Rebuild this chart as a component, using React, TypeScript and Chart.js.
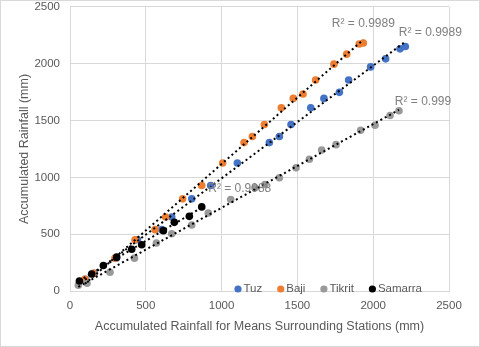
import React, { useEffect, useRef } from "react";
import { Chart, registerables } from "chart.js";

Chart.register(...registerables);

// ---- data ----
const seriesNames = ["Tuz", "Baji", "Tikrit", "Samarra"];
const seriesColors = ["#4472C4", "#ED7D31", "#999999", "#000000"];

const tuzX = [100, 160, 305, 445, 605, 671, 803, 928, 1104, 1315, 1381, 1458, 1588, 1675, 1777, 1838, 1983, 2082, 2177, 2212];
const tuzY = [103, 156, 289, 451, 540, 651, 811, 929, 1126, 1306, 1359, 1465, 1613, 1695, 1748, 1857, 1972, 2043, 2131, 2152];

const bajiX = [99, 154, 297, 429, 561, 631, 743, 869, 1007, 1148, 1203, 1282, 1394, 1473, 1537, 1620, 1741, 1825, 1908, 1935];
const bajiY = [103, 156, 289, 451, 540, 651, 811, 929, 1126, 1306, 1359, 1465, 1613, 1695, 1733, 1857, 1996, 2084, 2173, 2182];

const tikritX = [55, 112, 264, 425, 570, 671, 803, 912, 1060, 1220, 1286, 1381, 1491, 1579, 1660, 1755, 1917, 2012, 2111, 2170];
const tikritY = [50, 68, 165, 289, 422, 504, 581, 687, 805, 908, 937, 996, 1085, 1159, 1241, 1288, 1415, 1459, 1545, 1586];

const samarraX = [62, 143, 220, 308, 407, 473, 616, 688, 787, 869];
const samarraY = [88, 150, 224, 298, 368, 407, 531, 604, 657, 740];

const r2Labels = ["R\u00B2 = 0.9989", "R\u00B2 = 0.9989", "R\u00B2 = 0.999", "R\u00B2 = 0.9988"];

const axisMin = 0;
const axisMax = 2500;
const axisStep = 500;

const xTitle = "Accumulated Rainfall for Means Surrounding Stations (mm)";
const yTitle = "Accumulated Rainfall (mm)";

// ---- styling ----
const FONT = "'Liberation Sans', Arial, sans-serif";
const TEXT = "#595959";
const GRID = "#d9d9d9";
// pixel offsets of the R² label centre from the end of each trendline
const r2Offsets = [
  [25, -9],
  [0, -16],
  [24, -8],
  [38, -19],
];

const allX = [tuzX, bajiX, tikritX, samarraX];
const allY = [tuzY, bajiY, tikritY, samarraY];

function toPoints(xs: number[], ys: number[]) {
  return xs.map((x, i) => ({ x, y: ys[i] }));
}

function trend(xs: number[], ys: number[]) {
  const n = xs.length;
  const mx = xs.reduce((a, b) => a + b, 0) / n;
  const my = ys.reduce((a, b) => a + b, 0) / n;
  let sxy = 0;
  let sxx = 0;
  for (let i = 0; i < n; i++) {
    sxy += (xs[i] - mx) * (ys[i] - my);
    sxx += (xs[i] - mx) * (xs[i] - mx);
  }
  const b = sxy / sxx;
  const a = my - b * mx;
  const x0 = Math.min(...xs);
  const x1 = Math.max(...xs);
  return [
    { x: x0, y: a + b * x0 },
    { x: x1, y: a + b * x1 },
  ];
}

const trends = allX.map((xs, i) => trend(xs, allY[i]));

const overlayPlugin = {
  id: "overlay",
  beforeDraw(chart: any) {
    const ctx = chart.ctx;
    ctx.save();
    ctx.fillStyle = "#ffffff";
    ctx.fillRect(0, 0, chart.width, chart.height);
    ctx.restore();
  },
  afterDraw(chart: any) {
    const ctx = chart.ctx;
    const xs = chart.scales.x;
    const ys = chart.scales.y;
    ctx.save();
    // outer border
    ctx.strokeStyle = GRID;
    ctx.lineWidth = 1;
    ctx.strokeRect(0.5, 0.5, chart.width - 1, chart.height - 1);

    // R² labels
    ctx.font = `12px ${FONT}`;
    ctx.fillStyle = "#7f7f7f";
    ctx.textAlign = "center";
    ctx.textBaseline = "middle";
    trends.forEach((t, i) => {
      const end = t[1];
      const px = xs.getPixelForValue(end.x) + r2Offsets[i][0];
      const py = ys.getPixelForValue(end.y) + r2Offsets[i][1];
      ctx.fillText(r2Labels[i], px, py);
    });

    // legend
    ctx.font = `11.5px ${FONT}`;
    ctx.textAlign = "left";
    let lx = chart.chartArea.left + (chart.chartArea.right - chart.chartArea.left) * 0.434;
    const ly = chart.chartArea.bottom - 2;
    seriesNames.forEach((name, i) => {
      ctx.fillStyle = seriesColors[i];
      ctx.beginPath();
      ctx.arc(lx + 3.5, ly, 3.6, 0, Math.PI * 2);
      ctx.fill();
      ctx.fillStyle = TEXT;
      ctx.fillText(name, lx + 9, ly);
      lx += 9 + ctx.measureText(name).width + 15;
    });
    ctx.restore();
  },
};

const plainTick = (v: any) => String(v);

export default function App() {
  const canvasRef = useRef<HTMLCanvasElement | null>(null);

  useEffect(() => {
    document.body.style.margin = "0";
    const canvas = canvasRef.current;
    if (!canvas) return;

    const pointSets = allX.map((xs, i) => ({
      type: "scatter" as const,
      label: seriesNames[i],
      data: toPoints(xs, allY[i]),
      backgroundColor: seriesColors[i],
      borderColor: seriesColors[i],
      borderWidth: 0,
      pointRadius: 3.8,
      pointHoverRadius: 3.8,
      order: 4 - i,
    }));

    const trendSets = trends.map((t, i) => ({
      type: "line" as const,
      label: seriesNames[i] + " trend",
      data: t,
      borderColor: "#000000",
      borderWidth: 2,
      borderDash: [2, 3],
      pointRadius: 0,
      fill: false,
      showLine: true,
      order: 0,
    }));

    const chart = new Chart(canvas, {
      type: "scatter",
      data: { datasets: [...pointSets, ...trendSets] as any },
      options: {
        animation: false,
        responsive: false,
        maintainAspectRatio: false,
        events: [],
        layout: { padding: { top: 2, right: 31, left: 0, bottom: 0 } },
        plugins: {
          legend: { display: false },
          tooltip: { enabled: false },
        },
        scales: {
          x: {
            type: "linear",
            min: axisMin,
            max: axisMax,
            ticks: {
              stepSize: axisStep,
              color: TEXT,
              font: { family: FONT, size: 11.5 },
              padding: 0,
              callback: plainTick,
            },
            grid: { color: GRID, drawTicks: true, tickLength: 8, tickColor: "rgba(0,0,0,0)" },
            border: { color: GRID },
            title: {
              display: true,
              text: xTitle,
              color: TEXT,
              font: { family: FONT, size: 12.5 },
              padding: { top: 0, bottom: 13 },
            },
            afterFit(scale: any) {
              scale.height = 56;
            },
          },
          y: {
            type: "linear",
            min: axisMin,
            max: axisMax,
            ticks: {
              stepSize: axisStep,
              color: TEXT,
              font: { family: FONT, size: 11.5 },
              padding: 0,
              callback: plainTick,
            },
            grid: { color: GRID, drawTicks: true, tickLength: 10, tickColor: "rgba(0,0,0,0)" },
            border: { color: GRID },
            title: {
              display: true,
              text: yTitle,
              color: TEXT,
              font: { family: FONT, size: 12.5 },
              padding: { top: 17, bottom: 0 },
            },
            afterFit(scale: any) {
              scale.width = 70;
            },
          },
        },
      },
      plugins: [overlayPlugin],
    });

    return () => chart.destroy();
  }, []);

  return (
    <div style={{ width: 480, height: 347 }}>
      <canvas ref={canvasRef} width={480} height={347} style={{ display: "block" }} />
    </div>
  );
}
